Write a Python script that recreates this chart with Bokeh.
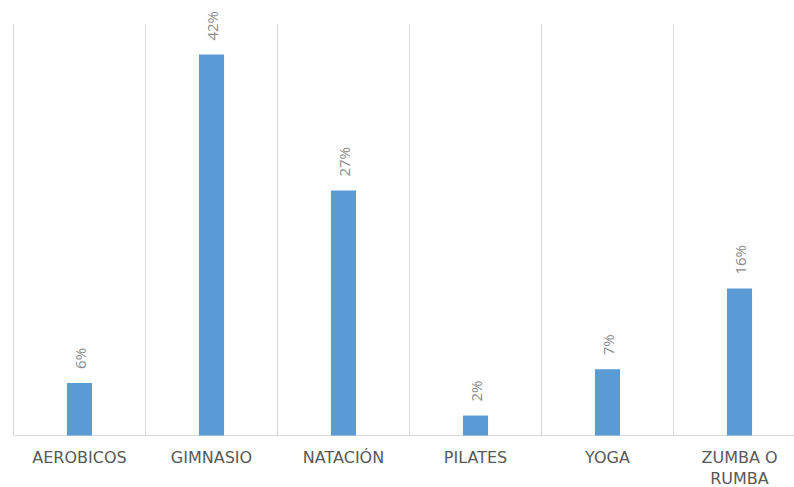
import math
from bokeh.plotting import figure
from bokeh.models import Range1d, ColumnDataSource
from bokeh.core.properties import value
from bokeh.embed import file_html
from bokeh.resources import INLINE

categories = ["AEROBICOS", "GIMNASIO", "NATACIÓN", "PILATES", "YOGA", "ZUMBA O\nRUMBA"]
values = [5.8, 42.0, 27.0, 2.2, 7.3, 16.2]
value_labels = ["6%", "42%", "27%", "2%", "7%", "16%"]

W, H = 794, 487
pos = list(range(len(categories)))

p = figure(width=W, height=H, output_backend="svg", toolbar_location=None,
           x_range=Range1d(-79 / 132, (W - 79) / 132),
           y_range=Range1d(-52 / 9.07, 435 / 9.07),
           min_border=0, border_fill_color="white", outline_line_color=None)
p.axis.visible = False
p.grid.visible = False

# vertical separators between categories
bounds = [i - 0.5 for i in range(len(categories) + 1)]
p.segment(x0=bounds, x1=bounds, y0=[0] * len(bounds), y1=[45.4] * len(bounds),
          line_color="#d9d9d9", line_width=1)
# baseline
p.segment(x0=[-0.5], x1=[len(categories) - 0.5], y0=[0], y1=[0],
          line_color="#d9d9d9", line_width=1)

src = ColumnDataSource(dict(x=pos, top=values, base=[0] * len(pos),
                            lab=value_labels, cat=categories))
p.vbar(x="x", top="top", width=0.19, bottom=0, source=src,
       fill_color="#5b9bd5", line_color=None)

p.text(x="x", y="top", text="lab", source=src, angle=math.pi / 2,
       text_align="left", text_baseline="middle", y_offset=-14,
       text_font=value("Open Sans"), text_font_size="15px", text_color="#8c8c8c")

p.text(x="x", y="base", text="cat", source=src, y_offset=12,
       text_align="center", text_baseline="top", text_line_height=1.15,
       text_font=value("DejaVu Sans"), text_font_size="16px", text_color="#595959")

open("out.html", "w").write(file_html(p, INLINE))
